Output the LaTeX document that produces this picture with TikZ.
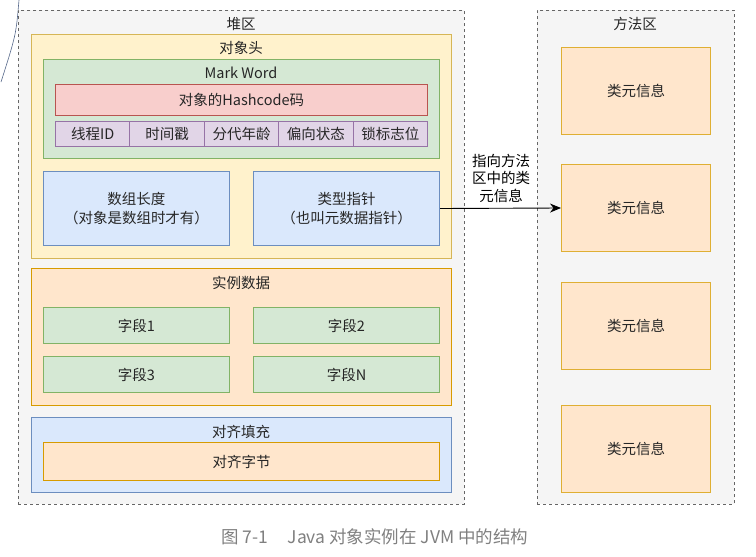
\documentclass[tikz,border=0pt]{standalone}
\usepackage{fontspec}
\usetikzlibrary{arrows.meta}
\setmainfont{Noto Sans CJK SC}

% couleurs des zones
\definecolor{areafill}{HTML}{F5F5F5}
\definecolor{areadraw}{HTML}{666666}
\definecolor{yellowfill}{HTML}{FFF2CC}
\definecolor{yellowdraw}{HTML}{D6B656}
\definecolor{greenfill}{HTML}{D5E8D4}
\definecolor{greendraw}{HTML}{82B366}
\definecolor{redfill}{HTML}{F8CECC}
\definecolor{reddraw}{HTML}{B85450}
\definecolor{purplefill}{HTML}{E1D5E7}
\definecolor{purpledraw}{HTML}{9673A6}
\definecolor{bluefill}{HTML}{DAE8FC}
\definecolor{bluedraw}{HTML}{6C8EBF}
\definecolor{orangefill}{HTML}{FFE6CC}
\definecolor{orangedraw}{HTML}{D79B00}
\definecolor{txt}{HTML}{262626}
\definecolor{curvecol}{HTML}{56688A}

\tikzset{
  zone/.style={draw=areadraw, fill=areafill, dash pattern=on 3pt off 3pt, line width=0.8pt,
    rectangle, anchor=north west, inner sep=0pt},
  cell/.style={rectangle, anchor=north west, inner sep=0pt, line width=1pt, text=txt,
    align=center, font=\fontsize{14.5}{19}\selectfont},
  tag/.style={text=txt, font=\fontsize{14.5}{18}\selectfont, inner sep=1pt},
}

\begin{document}
\begin{tikzpicture}[x=1pt, y=-1pt]
  \useasboundingbox (0,0) rectangle (756,557);

  % Largeurs successives des cases
  \def\wide{396}     % Mark Word et alignement
  \def\half{186}     % demi-cases
  \def\cw{74.4}      % cases violettes

  % trait courbe coupé en haut à gauche
  \draw[curvecol, line width=0.6pt] (19,0) .. controls (16,35) .. (1,82);

  % ==============================================
  % TAS
  % ==============================================
  \node[zone, minimum width=446, minimum height=494] (heap) at (18,10) {};
  \node[tag] (heaplbl) at (241,24) {堆区};

  % En-tête de l'objet
  \node[cell, draw=yellowdraw, fill=yellowfill, minimum width=420, minimum height=224] (head) at (31,34) {};
  \node[tag] (headlbl) at (241,48) {对象头};

  \node[cell, draw=greendraw, fill=greenfill, minimum width=\wide, minimum height=99] (mark) at (43,59) {};
  \node[tag] (marklbl) at (241,73) {Mark Word};
  \node[cell, draw=reddraw, fill=redfill, minimum width=372, minimum height=31] (hash) at (55,84) {对象的Hashcode码};

  % Les 5 cases violettes
  \foreach \t [count=\i] in {线程ID, 时间戳, 分代年龄, 偏向状态, 锁标志位} {
    \pgfmathsetmacro{\x}{55+(\i-1)*\cw}
    \node[cell, draw=purpledraw, fill=purplefill, minimum width=\cw, minimum height=25] (bit\i) at (\x,121) {\t};
  }

  \node[cell, draw=bluedraw, fill=bluefill, minimum width=\half, minimum height=74] (arrlen) at (43,171)
    {数组长度\\（对象是数组时才有）};
  \node[cell, draw=bluedraw, fill=bluefill, minimum width=\half, minimum height=74] (klass) at (253,171)
    {类型指针\\（也叫元数据指针）};

  % Données d'instance
  \node[cell, draw=orangedraw, fill=orangefill, minimum width=420, minimum height=137] (inst) at (31,268) {};
  \node[tag] (instlbl) at (241,283) {实例数据};
  \node[cell, draw=greendraw, fill=greenfill, minimum width=\half, minimum height=36] (field1) at (43,307) {字段1};
  \node[cell, draw=greendraw, fill=greenfill, minimum width=\half, minimum height=36] (field2) at (253,307) {字段2};
  \node[cell, draw=greendraw, fill=greenfill, minimum width=\half, minimum height=36] (field3) at (43,356) {字段3};
  \node[cell, draw=greendraw, fill=greenfill, minimum width=\half, minimum height=36] (fieldN) at (253,356) {字段N};

  % Remplissage
  \node[cell, draw=bluedraw, fill=bluefill, minimum width=420, minimum height=75] (pad) at (31,417) {};
  \node[tag] (padlbl) at (241,432) {对齐填充};
  \node[cell, draw=orangedraw, fill=orangefill, minimum width=\wide, minimum height=38] (padbyte) at (43,442) {对齐字节};

  % ==============================================
  % ZONE DES METHODES
  % ==============================================
  \node[zone, minimum width=197, minimum height=494] (method) at (537,10) {};
  \node[tag] (methodlbl) at (635,24) {方法区};
  \foreach \y [count=\i] in {47, 164, 282, 405} {
    \node[cell, draw=orangedraw!80, fill=orangefill, minimum width=149, minimum height=87] (info\i) at (561,\y) {类元信息};
  }

  % Pointeur vers la classe
  \draw[-{Stealth[length=11pt, width=9pt]}, line width=0.9pt] (klass.east) -- (info2.west);
  \node[tag, align=center, font=\fontsize{14.5}{17.5}\selectfont, text=black] (ptrlbl) at (501,178) {指向方法\\区中的类\\元信息};

  % Légende
  \node[text=gray, font=\fontsize{17.5}{20}\selectfont] (caption) at (375,537) {图 7-1\hspace{1.1em}Java 对象实例在 JVM 中的结构};
\end{tikzpicture}
\end{document}
